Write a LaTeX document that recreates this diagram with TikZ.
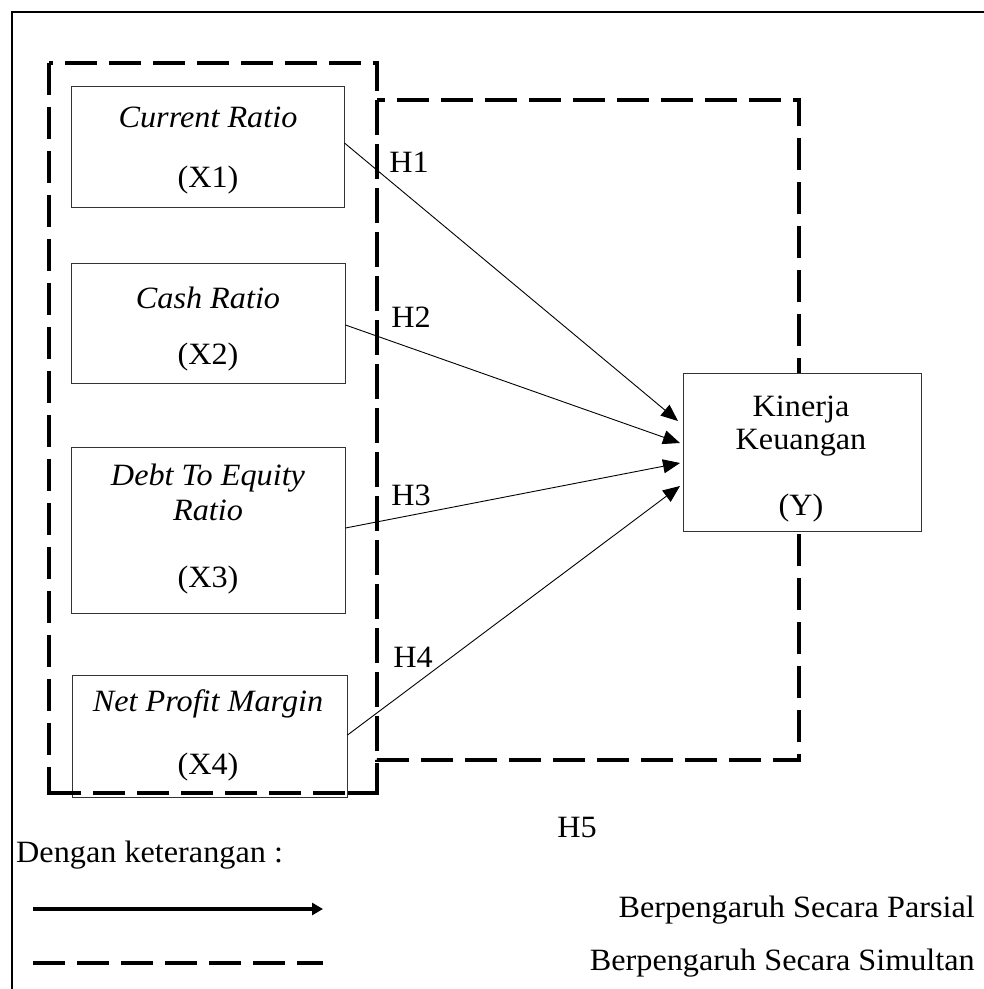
\documentclass[tikz,border=0pt]{standalone}
\usepackage{fontspec}
\setmainfont[FakeStretch=1.04]{Liberation Serif}
\usetikzlibrary{arrows.meta}
\begin{document}
\begin{tikzpicture}[x=1pt,y=-1pt,
  box/.style={draw=black!80, line width=1pt, fill=white, inner sep=0pt},
  txt/.style={inner sep=0pt, font=\fontsize{31}{36}\selectfont},
  itxt/.style={txt, font=\fontsize{31}{36}\selectfont\itshape},
  simul/.style={line width=4pt, dash pattern=on 32pt off 12pt},
  parsial/.style={line width=0.9pt, -{Triangle[length=17pt,width=14pt]}},
  legarrow/.style={line width=3.5pt, -{Triangle[length=11pt,width=12pt]}},
]
\useasboundingbox (0,0) rectangle (984,989);
% outer frame
\draw[line width=1.3pt] (12,989) -- (12,12) -- (984,12);
% simultaneous groups
\draw[simul] (49,63) rectangle (377,793);
\draw[simul] (377,100) rectangle (799,760);
% boxes
\node[box, minimum width=273pt, minimum height=121pt] (x1) at (207.5,146.5) {};
\node[box, minimum width=274pt, minimum height=120pt] (x2) at (208,323) {};
\node[box, minimum width=274pt, minimum height=166pt] (x3) at (208,530) {};
\node[box, minimum width=275pt, minimum height=122pt] (x4) at (209.5,736) {};
\draw[simul] (49,793) -- (377,793);
\node[box, minimum width=238pt, minimum height=158pt] (y) at (802,452) {};
% texts
\node[itxt] (t1a) at (208,117) {Current Ratio};
\node[txt] (t1b) at (208,180) {(X1)};
\node[itxt] (t2a) at (208,298) {Cash Ratio};
\node[txt] (t2b) at (208,357) {(X2)};
\node[itxt] (t3a) at (208,478) {Debt To Equity};
\node[itxt] (t3b) at (208,510) {Ratio};
\node[txt] (t3c) at (208,580) {(X3)};
\node[itxt] (t4a) at (208,704) {Net Profit Margin};
\node[txt] (t4b) at (208,767) {(X4)};
\node[txt] (ya) at (801,410) {Kinerja};
\node[txt] (yb) at (801,443) {Keuangan};
\node[txt] (yc) at (801,508) {(Y)};
% arrows
\coordinate (e1) at (678,421);
\coordinate (e2) at (680,443);
\coordinate (e3) at (680,463);
\coordinate (e4) at (680,486);
\draw[parsial] (x1.east |- 0,143) -- (e1);
\draw[parsial] (x2.east |- 0,325) -- (e2);
\draw[parsial] (x3.east |- 0,528) -- (e3);
\draw[parsial] (x4.east |- 0,735) -- (e4);
% hypothesis labels
\node[txt] (h1) at (409,162) {H1};
\node[txt] (h2) at (411,317) {H2};
\node[txt] (h3) at (411,495) {H3};
\node[txt] (h4) at (413,657) {H4};
\node[txt] (h5) at (577,827) {H5};
% legend
\node[txt, anchor=west] (leg) at (16,855) {Dengan keterangan :};
\coordinate (la) at (33,909);
\coordinate (lb) at (323,909);
\coordinate (lc) at (33,963);
\coordinate (ld) at (323,963);
\draw[legarrow] (la) -- (lb);
\draw[simul] (lc) -- (ld);
\node[txt, anchor=east] (lp) at (975,910) {Berpengaruh Secara Parsial};
\node[txt, anchor=east] (ls) at (975,963) {Berpengaruh Secara Simultan};
\end{tikzpicture}
\end{document}
